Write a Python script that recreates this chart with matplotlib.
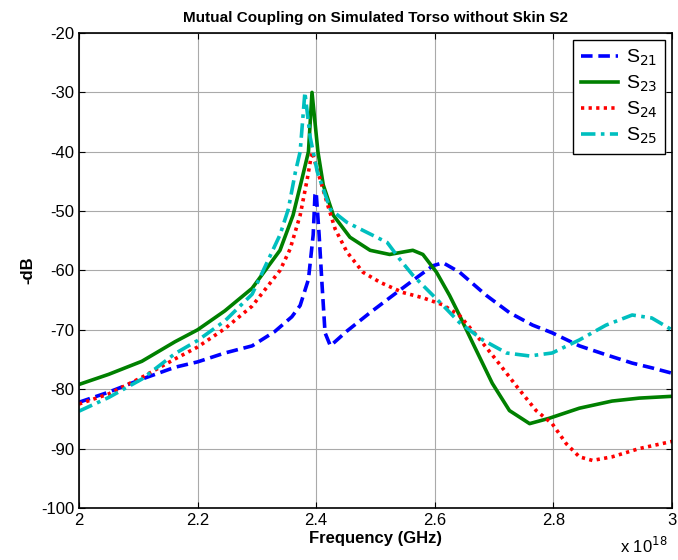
import matplotlib
matplotlib.use("Agg")
import matplotlib.pyplot as plt
import numpy as np

plt.rcParams['font.family'] = ['Liberation Sans', 'DejaVu Sans']
plt.rcParams['axes.unicode_minus'] = False
plt.rcParams['lines.solid_joinstyle'] = 'round'
plt.rcParams['lines.dash_joinstyle'] = 'round'

# frequency in units of 1e18 (as on the original axis)
f21 = [2.0, 2.05, 2.106, 2.162, 2.2, 2.246, 2.292, 2.33, 2.359, 2.373, 2.387,
       2.395, 2.398, 2.40, 2.405, 2.41, 2.415, 2.424, 2.452, 2.491, 2.536,
       2.575, 2.597, 2.614, 2.642, 2.687, 2.726, 2.765, 2.798, 2.844, 2.889,
       2.933, 2.966, 3.0]
s21 = [-82.2, -80.5, -78.3, -76.3, -75.4, -73.9, -72.7, -70.3, -67.8, -65.9, -61.5,
       -54, -47.3, -46.8, -54, -62.5, -70.5, -72.7, -70.2, -67.1, -63.7,
       -60.8, -59.2, -58.7, -60.3, -64.2, -67.1, -69.2, -70.5, -72.7, -74.2,
       -75.6, -76.4, -77.3]

f23 = [2.0, 2.05, 2.106, 2.162, 2.2, 2.246, 2.292, 2.339, 2.361, 2.376, 2.387,
       2.393, 2.403, 2.412, 2.429, 2.457, 2.491, 2.524, 2.546, 2.563, 2.58,
       2.603, 2.625, 2.642, 2.664, 2.697, 2.726, 2.76, 2.793, 2.844, 2.899,
       2.945, 3.0]
s23 = [-79.2, -77.5, -75.3, -72.0, -70.0, -66.8, -63.0, -56.6, -50.7, -44.6, -40,
       -30, -40, -45.6, -50.7, -54.4, -56.6, -57.3, -56.9, -56.6, -57.3,
       -60.3, -64.2, -67.6, -72.2, -79, -83.6, -85.8, -84.9, -83.2, -82,
       -81.5, -81.2]

f24 = [2.0, 2.05, 2.106, 2.162, 2.2, 2.246, 2.292, 2.339, 2.356, 2.373, 2.385,
       2.393, 2.403, 2.418, 2.432, 2.452, 2.479, 2.508, 2.546, 2.58, 2.614,
       2.642, 2.671, 2.704, 2.738, 2.771, 2.798, 2.822, 2.844, 2.866, 2.899,
       2.945, 3.0]
s24 = [-82.5, -80.8, -78.0, -74.9, -72.9, -69.8, -66.0, -60.0, -56.4, -50.7, -44.6,
       -40.0, -43.4, -48.5, -53, -56.9, -60.3, -62, -63.7, -64.6, -65.8,
       -67.6, -71, -75.1, -79.5, -83.6, -85.8, -89.2, -91.4, -92, -91.4,
       -90, -88.8]

f25 = [2.0, 2.05, 2.106, 2.162, 2.2, 2.246, 2.292, 2.339, 2.353, 2.365, 2.373,
       2.381, 2.39, 2.402, 2.424, 2.452, 2.486, 2.52, 2.541, 2.563, 2.587,
       2.614, 2.642, 2.681, 2.721, 2.76, 2.798, 2.844, 2.889, 2.933, 2.966,
       3.0]
s25 = [-83.7, -81.4, -78.3, -74.0, -71.8, -68.5, -64.0, -54.0, -49.7, -43.4, -40,
       -30, -37.6, -43.4, -49.7, -51.9, -53.6, -55.3, -58.1, -60.8, -63.2,
       -65.9, -68.8, -71.7, -73.9, -74.4, -73.9, -71.7, -69.2, -67.5, -68,
       -70]

fig = plt.figure(figsize=(6.78, 5.6), dpi=100)
ax = fig.add_axes([0.1165, 0.093, 0.8745, 0.848])

ax.plot(f21, s21, color='blue', ls=(0, (3.2, 1.6)), lw=2.6, label='S$_{21}$')
ax.plot(f23, s23, color='green', ls='-', lw=2.6, label='S$_{23}$')
ax.plot(f24, s24, color='red', ls=(0, (0.9, 1.2)), lw=2.6, label='S$_{24}$')
ax.plot(f25, s25, color='#00bfbf', ls=(0, (4, 1.5, 1, 1.5)), lw=2.6, label='S$_{25}$')

ax.set_xlim(2, 3)
ax.set_ylim(-100, -20)
ax.set_xticks(np.arange(2, 3.01, 0.2))
ax.set_xticklabels(['2', '2.2', '2.4', '2.6', '2.8', '3'])
ax.set_yticks(np.arange(-100, -19, 10))
ax.grid(True, color='#aaaaaa', lw=0.8)
ax.tick_params(direction='in', top=True, right=True, labelsize=12, length=4)
for sp in ax.spines.values():
    sp.set_linewidth(1.2)

ax.set_xlabel('Frequency (GHz)', fontsize=12, fontweight='bold', labelpad=2)
ax.set_ylabel('-dB', fontsize=12, fontweight='bold')
ax.set_title('Mutual Coupling on Simulated Torso without Skin S2',
             fontsize=11, fontweight='bold', pad=8)
fig.text(0.915, 0.012, 'x 10$^{18}$', fontsize=12)

leg = ax.legend(loc='upper right', fontsize=14, handlelength=1.9,
                handletextpad=0.4, fancybox=False, edgecolor='black',
                framealpha=1, borderaxespad=0.35, labelspacing=0.3)
leg.get_frame().set_linewidth(1.0)

fig.savefig('out.png', dpi=100)
